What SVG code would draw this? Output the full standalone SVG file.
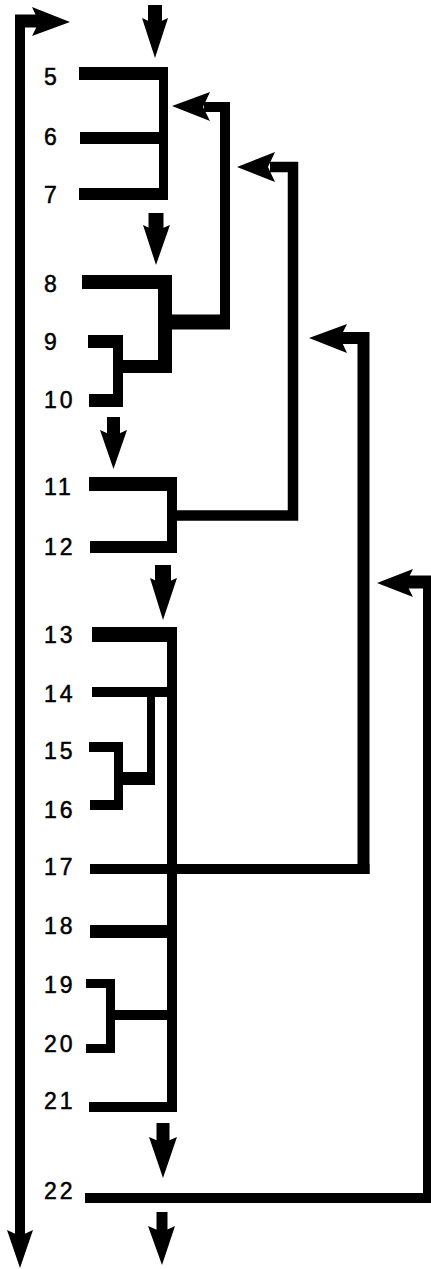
<svg xmlns="http://www.w3.org/2000/svg" width="431" height="1269" viewBox="0 0 431 1269">
<style>
.lbl{font-family:"Liberation Sans",Arial,sans-serif;font-size:23px;fill:#000;stroke:#000;stroke-width:0.5px;letter-spacing:3px}
.ln{stroke:#000;fill:none;stroke-linecap:butt;stroke-linejoin:miter}
.hd{fill:#000;stroke:none}
</style>
<rect width="431" height="1269" fill="#fff"/>
<g id="connectors">
  <!-- brackets -->
  <line class="ln" x1="163.5" y1="67" x2="163.5" y2="200" stroke-width="9"/>
  <line class="ln" x1="165" y1="275" x2="165" y2="373" stroke-width="14"/>
  <line class="ln" x1="118" y1="335" x2="118" y2="407" stroke-width="10"/>
  <line class="ln" x1="113" y1="366.5" x2="172" y2="366.5" stroke-width="13"/>
  <line class="ln" x1="172" y1="477" x2="172" y2="553" stroke-width="10"/>
  <line class="ln" x1="172" y1="627" x2="172" y2="1112" stroke-width="10"/>
  <line class="ln" x1="151" y1="687" x2="151" y2="785" stroke-width="8"/>
  <line class="ln" x1="114" y1="778.5" x2="155" y2="778.5" stroke-width="13"/>
  <line class="ln" x1="118.5" y1="742" x2="118.5" y2="810" stroke-width="9"/>
  <line class="ln" x1="110.5" y1="979" x2="110.5" y2="1053" stroke-width="9"/>
  <line class="ln" x1="106" y1="1015" x2="172" y2="1015" stroke-width="10"/>
  <!-- feedback A -->
  <line class="ln" x1="172" y1="322" x2="230" y2="322" stroke-width="15"/>
  <path class="ln" d="M225,329 V107 H204" stroke-width="10"/>
  <polygon class="hd" points="172,106 210,92 203,107 210,121"/>
  <!-- feedback B -->
  <path class="ln" d="M172,515.5 H293 V167 H270" stroke-width="10.5"/>
  <polygon class="hd" points="237,167 275,152 268,167 275,182"/>
  <!-- feedback C (17) -->
  <path class="ln" d="M363.5,874 V338 H340" stroke-width="12"/>
  <polygon class="hd" points="309,338 347,324 340,338 347,353"/>
  <!-- feedback D (22) -->
  <line class="ln" x1="427" y1="1203" x2="427" y2="576" stroke-width="8"/>
  <line class="ln" x1="431" y1="582" x2="405" y2="582" stroke-width="13"/>
  <polygon class="hd" points="377,583 413,569 406,583 413,597"/>
  <!-- left loop arrow -->
  <path class="ln" d="M20,1236 V21 H40" stroke-width="10"/>
  <line class="ln" x1="15" y1="21" x2="40" y2="21" stroke-width="13"/>
  <polygon class="hd" points="70,22 32,7 39,22 32,36"/>
  <polygon class="hd" points="20,1268 7,1230 20,1236 33,1230"/>
  <!-- down arrows -->
  <line class="ln" x1="155" y1="5" x2="155" y2="24" stroke-width="14"/>
  <polygon class="hd" points="155,58 142,18 155,24 168,18"/>
  <line class="ln" x1="156" y1="213" x2="156" y2="231" stroke-width="15"/>
  <polygon class="hd" points="156,265 143,225 156,231 170,225"/>
  <line class="ln" x1="113.5" y1="417" x2="113.5" y2="436" stroke-width="13"/>
  <polygon class="hd" points="113.5,469 100,430 113.5,436 127,430"/>
  <line class="ln" x1="163" y1="565" x2="163" y2="584" stroke-width="16"/>
  <polygon class="hd" points="163,620 150,578 163,584 177,578"/>
  <line class="ln" x1="163" y1="1123" x2="163" y2="1143" stroke-width="13"/>
  <polygon class="hd" points="163,1178 149,1137 163,1143 177,1137"/>
  <line class="ln" x1="162" y1="1212" x2="162" y2="1232" stroke-width="11"/>
  <polygon class="hd" points="162,1265 148,1226 162,1232 175,1226"/>
</g>
<g id="n5"><text class="lbl" x="44" y="85">5</text><line class="ln" x1="79" y1="73.5" x2="168" y2="73.5" stroke-width="13"/></g>
<g id="n6"><text class="lbl" x="44" y="145">6</text><line class="ln" x1="80" y1="138" x2="163" y2="138" stroke-width="12"/></g>
<g id="n7"><text class="lbl" x="44" y="203">7</text><line class="ln" x1="79" y1="194" x2="168" y2="194" stroke-width="12"/></g>
<g id="n8"><text class="lbl" x="44" y="292">8</text><line class="ln" x1="82" y1="282" x2="172" y2="282" stroke-width="14"/></g>
<g id="n9"><text class="lbl" x="44" y="350">9</text><line class="ln" x1="88" y1="341.5" x2="123" y2="341.5" stroke-width="13"/></g>
<g id="n10"><text class="lbl" x="44" y="408">10</text><line class="ln" x1="89" y1="400.5" x2="123" y2="400.5" stroke-width="13"/></g>
<g id="n11"><text class="lbl" x="44" y="495">11</text><line class="ln" x1="89" y1="484" x2="177" y2="484" stroke-width="14"/></g>
<g id="n12"><text class="lbl" x="44" y="555">12</text><line class="ln" x1="90" y1="547" x2="177" y2="547" stroke-width="12"/></g>
<g id="n13"><text class="lbl" x="44" y="643">13</text><line class="ln" x1="92" y1="634.5" x2="177" y2="634.5" stroke-width="15"/></g>
<g id="n14"><text class="lbl" x="44" y="702">14</text><line class="ln" x1="92" y1="692" x2="172" y2="692" stroke-width="10"/></g>
<g id="n15"><text class="lbl" x="44" y="759">15</text><line class="ln" x1="89" y1="747" x2="123" y2="747" stroke-width="10"/></g>
<g id="n16"><text class="lbl" x="44" y="818">16</text><line class="ln" x1="90" y1="805" x2="123" y2="805" stroke-width="10"/></g>
<g id="n17"><text class="lbl" x="44" y="875">17</text><line class="ln" x1="90" y1="869" x2="369.5" y2="869" stroke-width="10"/></g>
<g id="n18"><text class="lbl" x="44" y="934">18</text><line class="ln" x1="90" y1="931.5" x2="177" y2="931.5" stroke-width="13"/></g>
<g id="n19"><text class="lbl" x="44" y="993">19</text><line class="ln" x1="86" y1="983.5" x2="115" y2="983.5" stroke-width="9"/></g>
<g id="n20"><text class="lbl" x="44" y="1052">20</text><line class="ln" x1="86" y1="1048.5" x2="115" y2="1048.5" stroke-width="9"/></g>
<g id="n21"><text class="lbl" x="44" y="1109">21</text><line class="ln" x1="89" y1="1107" x2="177" y2="1107" stroke-width="10"/></g>
<g id="n22"><text class="lbl" x="44" y="1199">22</text><line class="ln" x1="85" y1="1198" x2="431" y2="1198" stroke-width="10"/></g>
</svg>
